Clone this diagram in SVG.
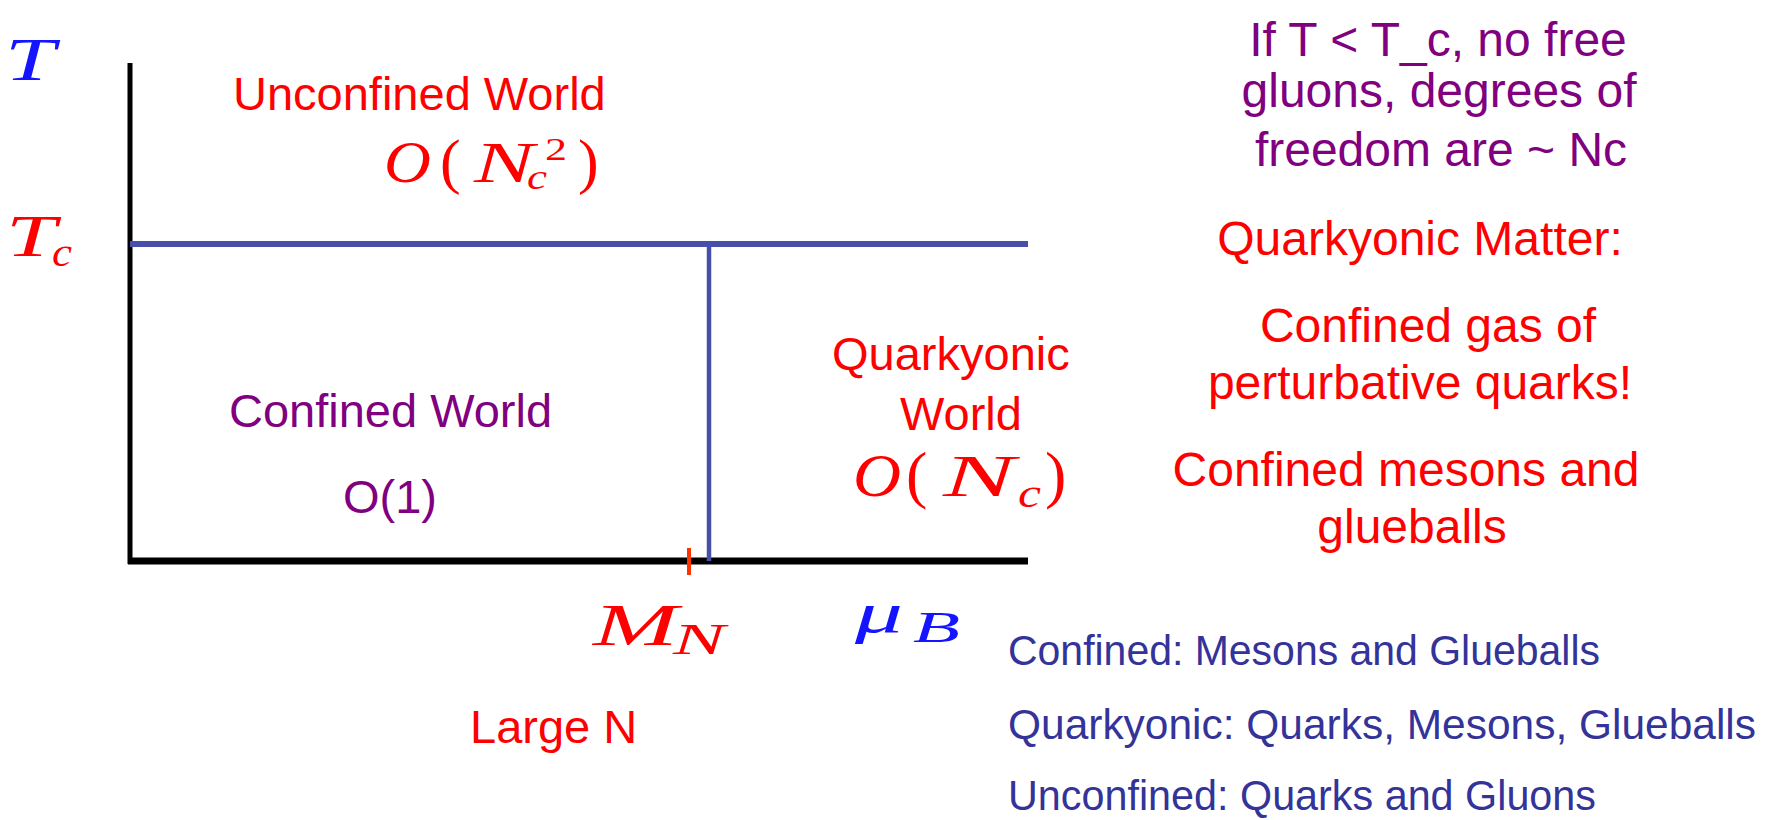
<svg xmlns="http://www.w3.org/2000/svg" width="1777" height="820" viewBox="0 0 1777 820">
<style>
.sans{font-family:"Liberation Sans",Arial,sans-serif;font-size:47px;}
.note{font-size:48px;}
.math{font-family:"Liberation Serif","Times New Roman",serif;font-style:italic;}
.up{font-style:normal;}
.red{fill:#ff0000;}
.purple{fill:#800080;}
.blue{fill:#1414ff;}
.legend{font-family:"Liberation Sans",Arial,sans-serif;font-size:42px;fill:#333399;}
.mid{text-anchor:middle;}
.axis{stroke:#000;fill:none;}
.phase{stroke:#4650AA;fill:none;}
</style>
<rect width="1777" height="820" fill="#ffffff"/>
<g id="axes">
<line class="axis" x1="130" y1="63" x2="130" y2="564" stroke-width="5"/>
<line class="axis" x1="128" y1="561" x2="1028" y2="561" stroke-width="7"/>
</g>
<g id="connectors">
<line class="phase" x1="130" y1="244" x2="1028" y2="244" stroke-width="6"/>
<line class="phase" x1="709" y1="244" x2="709" y2="561" stroke-width="4.5"/>
<line x1="689" y1="548" x2="689" y2="575" stroke="#ff3300" stroke-width="4"/>
</g>
<g id="axis-T">
<text class="math blue" x="5" y="80" font-size="62" textLength="50" lengthAdjust="spacingAndGlyphs">T</text>
</g>
<g id="axis-Tc">
<text class="math red" x="6" y="256" font-size="60" textLength="50" lengthAdjust="spacingAndGlyphs">T</text>
<text class="math red" x="52" y="266" font-size="40" textLength="20" lengthAdjust="spacingAndGlyphs">c</text>
</g>
<g id="axis-MN">
<text class="math red" x="593" y="645" font-size="60" textLength="85" lengthAdjust="spacingAndGlyphs">M</text>
<text class="math red" x="673" y="654" font-size="44" textLength="52" lengthAdjust="spacingAndGlyphs">N</text>
</g>
<g id="axis-muB">
<text class="math blue" x="855" y="632" font-size="56" textLength="48" lengthAdjust="spacingAndGlyphs">μ</text>
<text class="math blue" x="913" y="642" font-size="44" textLength="47" lengthAdjust="spacingAndGlyphs">B</text>
</g>
<g id="unconfined-world">
<text class="sans red" x="233" y="110">Unconfined World</text>
<text class="math red" x="384" y="182" font-size="60" textLength="47" lengthAdjust="spacingAndGlyphs">O</text>
<text class="math up red" x="440" y="182" font-size="62">(</text>
<text class="math red" x="474" y="182" font-size="56" textLength="60" lengthAdjust="spacingAndGlyphs">N</text>
<text class="math red" x="527" y="189" font-size="36" textLength="20" lengthAdjust="spacingAndGlyphs">c</text>
<text class="math up red" x="545" y="160" font-size="32" textLength="22" lengthAdjust="spacingAndGlyphs">2</text>
<text class="math up red" x="578" y="182" font-size="62">)</text>
</g>
<g id="confined-world">
<text class="sans purple" x="229" y="427">Confined World</text>
<text class="sans purple" x="343" y="513">O(1)</text>
</g>
<g id="quarkyonic-world">
<text class="sans red" x="832" y="370">Quarkyonic</text>
<text class="sans red" x="900" y="430">World</text>
<text class="math red" x="853" y="496" font-size="62" textLength="48" lengthAdjust="spacingAndGlyphs">O</text>
<text class="math up red" x="906" y="496" font-size="64">(</text>
<text class="math red" x="943" y="496" font-size="60" textLength="72" lengthAdjust="spacingAndGlyphs">N</text>
<text class="math red" x="1018" y="507" font-size="40" textLength="23" lengthAdjust="spacingAndGlyphs">c</text>
<text class="math up red" x="1045" y="496" font-size="64">)</text>
</g>
<g id="large-n">
<text class="sans red" x="470" y="743">Large N</text>
</g>
<g id="note-tc">
<text class="sans note purple mid" x="1438" y="56" font-size="48.5">If T &lt; T_c, no free</text>
<text class="sans note purple mid" x="1439" y="107" font-size="48.5">gluons, degrees of</text>
<text class="sans note purple mid" x="1441" y="166" font-size="48.5">freedom are ~ Nc</text>
</g>
<g id="note-quarkyonic">
<text class="sans note red mid" x="1420" y="255">Quarkyonic Matter:</text>
<text class="sans note red mid" x="1428" y="342">Confined gas of</text>
<text class="sans note red mid" x="1420" y="399">perturbative quarks!</text>
<text class="sans note red mid" x="1406" y="486">Confined mesons and</text>
<text class="sans note red mid" x="1412" y="543">glueballs</text>
</g>
<g id="legend">
<text class="legend" x="1008" y="665" textLength="592" lengthAdjust="spacingAndGlyphs">Confined: Mesons and Glueballs</text>
<text class="legend" x="1008" y="739" textLength="748" lengthAdjust="spacingAndGlyphs">Quarkyonic: Quarks, Mesons, Glueballs</text>
<text class="legend" x="1008" y="810" textLength="588" lengthAdjust="spacingAndGlyphs">Unconfined: Quarks and Gluons</text>
</g>
</svg>
